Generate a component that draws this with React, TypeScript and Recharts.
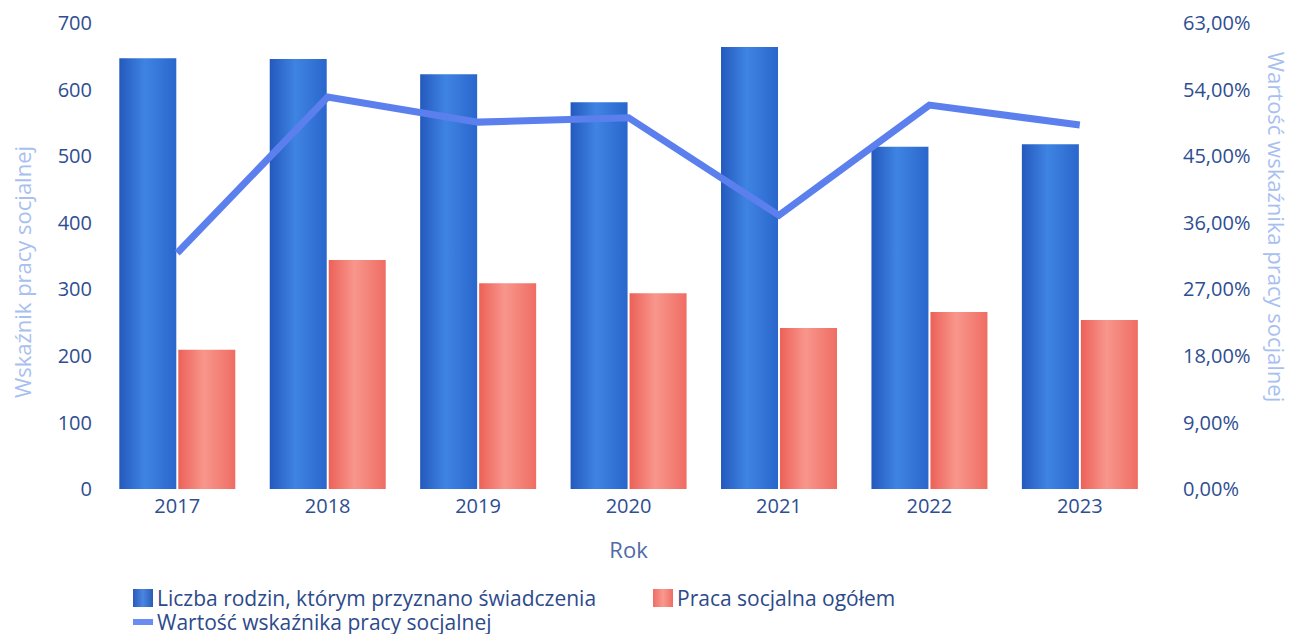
import {
  ComposedChart,
  Bar,
  Line,
  XAxis,
  YAxis,
} from "recharts";

const years = ["2017", "2018", "2019", "2020", "2021", "2022", "2023"];
const families = [647, 646, 623, 581, 664, 514, 518];
const socialWork = [209, 344, 309, 294, 242, 266, 254];
const rate = [31.9, 53.0, 49.6, 50.2, 37.0, 51.9, 49.2];

const leftTicks = [0, 100, 200, 300, 400, 500, 600, 700];
const rightTicks = [0, 9, 18, 27, 36, 45, 54, 63];

const data = years.map((year, i) => ({
  year,
  families: families[i],
  socialWork: socialWork[i],
  rate: rate[i],
}));

const FONT = "'Open Sans', sans-serif";
const TICK = "#2e4e92";

function pct(v: number) {
  return `${v.toFixed(2).replace(".", ",")}%`;
}

function LegendBox() {
  const item = (swatch: any, text: string) => (
    <div style={{ display: "flex", alignItems: "center", height: 24 }}>
      <span style={{ display: "inline-block", width: 20, ...swatch }} />
      <span style={{ marginLeft: 4, whiteSpace: "nowrap" }}>{text}</span>
    </div>
  );
  return (
    <div
      style={{
        position: "absolute",
        left: 133,
        top: 586,
        fontFamily: FONT,
        fontSize: 21,
        color: "#2d4a8a",
        lineHeight: "24px",
      }}
    >
      <div style={{ display: "flex" }}>
        <div style={{ width: 520 }}>
          {item(
            { height: 18, background: "linear-gradient(90deg,#2a5cb8,#4a86e0,#2a5cb8)" },
            "Liczba rodzin, którym przyznano świadczenia"
          )}
        </div>
        {item(
          { height: 18, background: "linear-gradient(90deg,#ef6e64,#f8998f,#ef6e64)" },
          "Praca socjalna ogółem"
        )}
      </div>
      {item({ height: 6, background: "#6b8cf0" }, "Wartość wskaźnika pracy socjalnej")}
    </div>
  );
}

export default function App() {
  return (
    <div style={{ position: "absolute", left: 0, top: 0, width: 1293, height: 634, background: "#fff" }}>
      <ComposedChart
        width={1293}
        height={575}
        data={data}
        margin={{ top: 23, right: 0, left: 0, bottom: 0 }}
        barGap={2}
        barCategoryGap="11.5%"
      >
        <defs>
          <linearGradient id="blueBar" x1="0" y1="0" x2="1" y2="0">
            <stop offset="0%" stopColor="#2459bd" />
            <stop offset="45%" stopColor="#3f84e2" />
            <stop offset="100%" stopColor="#2a66cc" />
          </linearGradient>
          <linearGradient id="redBar" x1="0" y1="0" x2="1" y2="0">
            <stop offset="0%" stopColor="#ec6158" />
            <stop offset="45%" stopColor="#f8968c" />
            <stop offset="100%" stopColor="#ef6d63" />
          </linearGradient>
        </defs>
        <XAxis
          dataKey="year"
          height={86}
          tickLine={false}
          axisLine={false}
          tickMargin={4}
          tick={{ fill: TICK, fontSize: 20, fontFamily: FONT }}
          label={{
            value: "Rok",
            position: "insideBottom",
            offset: 17,
            fill: "#4f6aa6",
            fontSize: 22,
            fontFamily: FONT,
          }}
        />
        <YAxis
          yAxisId="left"
          orientation="left"
          width={102}
          domain={[0, 700]}
          ticks={leftTicks}
          interval={0}
          tickLine={false}
          axisLine={false}
          tickMargin={4}
          tick={{ fill: TICK, fontSize: 20, fontFamily: FONT }}
          label={{
            content: () => (
              <text
                x={22}
                y={272}
                transform="rotate(-90 22 272)"
                textAnchor="middle"
                dominantBaseline="central"
                fill="#a9bff0"
                fontSize={22}
                fontFamily={FONT}
              >
                Wskaźnik pracy socjalnej
              </text>
            ),
          }}
        />
        <YAxis
          yAxisId="right"
          orientation="right"
          width={138}
          domain={[0, 63]}
          ticks={rightTicks}
          interval={0}
          tickLine={false}
          axisLine={false}
          tickMargin={22}
          tickFormatter={pct}
          tick={{ fill: TICK, fontSize: 20, fontFamily: FONT }}
          label={{
            content: () => (
              <text
                x={1277}
                y={227}
                transform="rotate(90 1277 227)"
                textAnchor="middle"
                dominantBaseline="central"
                fill="#a9bff0"
                fontSize={22}
                fontFamily={FONT}
              >
                Wartość wskaźnika pracy socjalnej
              </text>
            ),
          }}
        />
        <Bar yAxisId="left" dataKey="families" fill="url(#blueBar)" isAnimationActive={false} />
        <Bar yAxisId="left" dataKey="socialWork" fill="url(#redBar)" isAnimationActive={false} />
        <Line
          yAxisId="right"
          type="linear"
          dataKey="rate"
          stroke="#5b80ee"
          strokeWidth={7}
          dot={false}
          activeDot={false}
          isAnimationActive={false}
        />
      </ComposedChart>
      <LegendBox />
    </div>
  );
}
